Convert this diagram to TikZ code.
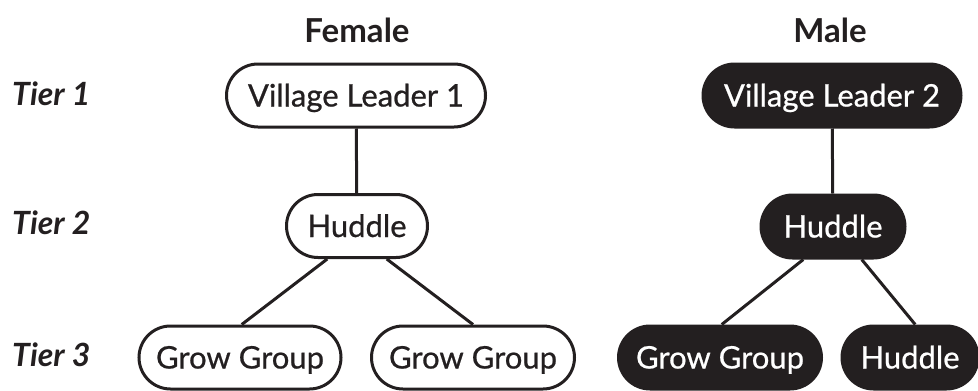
\documentclass[tikz,border=0pt]{standalone}
\usepackage{fontspec}
\setmainfont{Lato}
\newfontfamily\medfont[FakeBold=0.7]{Lato}
\usetikzlibrary{shapes.misc}
\definecolor{ink}{RGB}{35,31,32}
\begin{document}
\begin{tikzpicture}[x=1pt,y=-1pt,
  pill/.style={rounded rectangle, draw=ink, line width=3pt, minimum height=63pt, inner sep=0pt, text height=22pt, text depth=0pt, font=\medfont\fontsize{31}{31}\selectfont},
  lightpill/.style={pill, fill=white, text=ink},
  darkpill/.style={pill, fill=ink, text=white},
  head/.style={font=\fontsize{33}{33}\selectfont\bfseries, text=ink, text height=24pt, text depth=0pt, inner sep=0pt},
  tier/.style={font=\fontsize{32}{32}\selectfont\bfseries\itshape, text=ink, anchor=west, inner sep=0pt, text height=23pt, text depth=0pt},
  link/.style={draw=ink, line width=3pt}]
\useasboundingbox (0,0) rectangle (978,391);
\node[head] (female) at (357,30) {Female};
\node[head] (male) at (830,30) {Male};
\node[tier] (t1) at (12,94) {Tier 1};
\node[tier] (t2) at (12,223) {Tier 2};
\node[tier] (t3) at (12,355) {Tier 3};
\node[lightpill, minimum width=259pt] (vl1) at (356,95.5) {Village Leader 1};
\node[lightpill, minimum width=141pt] (hf) at (357,226) {Huddle};
\node[lightpill, minimum width=202pt] (gg1) at (240,357.5) {Grow Group};
\node[lightpill, minimum width=203pt] (gg2) at (473,357.5) {Grow Group};
\node[darkpill, minimum width=258pt] (vl2) at (832,95.5) {Village Leader 2};
\node[darkpill, minimum width=144pt] (hm) at (833,226.5) {Huddle};
\node[darkpill, minimum width=203pt] (ggb) at (720,357.5) {Grow Group};
\node[darkpill, minimum width=136pt] (hb) at (910,357.5) {Huddle};
\draw[link] (vl1) -- (hf);
\draw[link] (vl2) -- (hm);
\draw[link] (hf.228) -- (gg1.87);
\draw[link] (hf.312) -- (gg2.north);
\draw[link] (hm.228) -- (ggb.87);
\draw[link] (hm.311) -- (hb.81);
\end{tikzpicture}
\end{document}
